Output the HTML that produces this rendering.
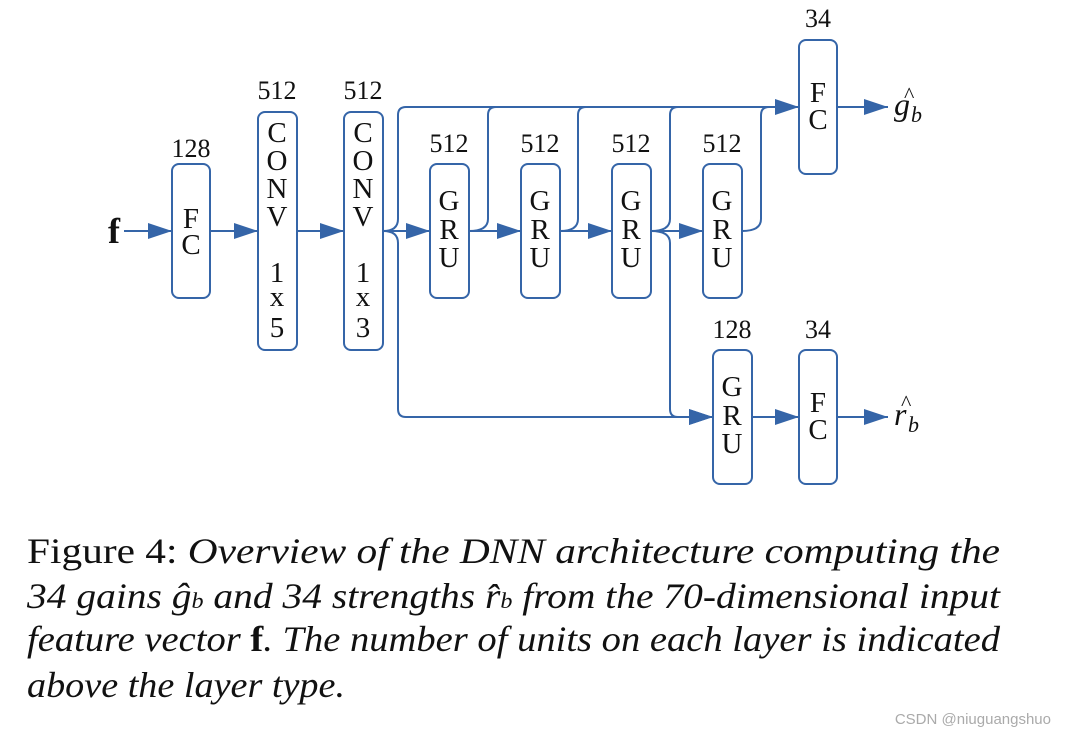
<!DOCTYPE html>
<html><head><meta charset="utf-8"><style>html,body{margin:0;padding:0;background:#fff}svg{display:block}</style></head>
<body>
<svg width="1066" height="736" viewBox="0 0 1066 736" xmlns="http://www.w3.org/2000/svg">
<defs>
<marker id="a" viewBox="0 0 24 16" refX="24" refY="8" markerWidth="24" markerHeight="16" markerUnits="userSpaceOnUse" orient="auto"><path d="M0,0 L24,8 L0,16 z" fill="#3565a8"/></marker>
</defs>
<g fill="none" stroke="#3565a8" stroke-width="2">
<rect x="172" y="164" width="38" height="134" rx="7"/>
<rect x="258" y="112" width="39" height="238" rx="7"/>
<rect x="344" y="112" width="39" height="238" rx="7"/>
<rect x="430" y="164" width="39" height="134" rx="7"/>
<rect x="521" y="164" width="39" height="134" rx="7"/>
<rect x="612" y="164" width="39" height="134" rx="7"/>
<rect x="703" y="164" width="39" height="134" rx="7"/>
<rect x="799" y="40" width="38" height="134" rx="7"/>
<rect x="713" y="350" width="39" height="134" rx="7"/>
<rect x="799" y="350" width="38" height="134" rx="7"/>
<g marker-end="url(#a)">
<line x1="124" y1="231" x2="172" y2="231"/>
<line x1="210" y1="231" x2="258" y2="231"/>
<line x1="297" y1="231" x2="344" y2="231"/>
<line x1="383" y1="231" x2="430" y2="231"/>
<line x1="469" y1="231" x2="521" y2="231"/>
<line x1="560" y1="231" x2="612" y2="231"/>
<line x1="651" y1="231" x2="703" y2="231"/>
<line x1="752" y1="417" x2="799" y2="417"/>
<line x1="837" y1="417" x2="888" y2="417"/>
<line x1="837" y1="107" x2="888" y2="107"/>
<path d="M383,231 Q398,231 398,219 L398,115 Q398,107 406,107 L799,107"/>
<path d="M383,231 Q398,231 398,243 L398,409 Q398,417 406,417 L713,417"/>
<path d="M651,231 Q670,231 670,243 L670,409 Q670,417 678,417 L713,417"/>
</g>
<path d="M469,231 Q488,231 488,219 L488,115 Q488,107 496,107"/>
<path d="M560,231 Q578,231 578,219 L578,115 Q578,107 586,107"/>
<path d="M651,231 Q670,231 670,219 L670,115 Q670,107 678,107"/>
<path d="M742,231 Q761,231 761,219 L761,115 Q761,107 769,107"/>
</g>
<g font-family="'Liberation Serif',serif" font-size="26" fill="#111" text-anchor="middle">
<text x="191" y="157">128</text>
<text x="277" y="99">512</text>
<text x="363" y="99">512</text>
<text x="449" y="152">512</text>
<text x="540" y="152">512</text>
<text x="631" y="152">512</text>
<text x="722" y="152">512</text>
<text x="818" y="27">34</text>
<text x="732" y="338">128</text>
<text x="818" y="338">34</text>
</g>
<g font-family="'Liberation Serif',serif" font-size="29" fill="#111" text-anchor="middle">
<text x="191" y="228">F</text><text x="191" y="254">C</text>
<text x="277" y="142">C</text><text x="277" y="170">O</text><text x="277" y="198">N</text><text x="277" y="226">V</text>
<text x="277" y="282">1</text><text x="277" y="306">x</text><text x="277" y="337">5</text>
<text x="363" y="142">C</text><text x="363" y="170">O</text><text x="363" y="198">N</text><text x="363" y="226">V</text>
<text x="363" y="282">1</text><text x="363" y="306">x</text><text x="363" y="337">3</text>
<text x="449" y="210">G</text><text x="449" y="239">R</text><text x="449" y="267">U</text>
<text x="540" y="210">G</text><text x="540" y="239">R</text><text x="540" y="267">U</text>
<text x="631" y="210">G</text><text x="631" y="239">R</text><text x="631" y="267">U</text>
<text x="722" y="210">G</text><text x="722" y="239">R</text><text x="722" y="267">U</text>
<text x="818" y="102">F</text><text x="818" y="129">C</text>
<text x="732" y="396">G</text><text x="732" y="425">R</text><text x="732" y="453">U</text>
<text x="818" y="412">F</text><text x="818" y="439">C</text>
<text x="114" y="243" font-size="36" font-weight="bold">f</text>
</g>
<g font-family="'Liberation Serif',serif" fill="#111">
<text x="894" y="115" font-size="32" font-style="italic">g</text><text x="904" y="102" font-size="22">^</text><text x="911" y="122" font-size="22" font-style="italic">b</text>
<text x="894" y="425" font-size="32" font-style="italic">r</text><text x="901" y="410" font-size="22">^</text><text x="908" y="432" font-size="22" font-style="italic">b</text>
</g>
<g font-family="'Liberation Serif',serif" font-size="36" fill="#111">
<text x="27" y="563" textLength="973" lengthAdjust="spacingAndGlyphs"><tspan font-style="normal">Figure 4:</tspan><tspan font-style="italic">  Overview of the DNN architecture computing the</tspan></text>
<text x="27" y="608" textLength="973" lengthAdjust="spacingAndGlyphs" font-style="italic">34 gains ĝ<tspan font-size="22">b</tspan> and 34 strengths r̂<tspan font-size="22">b</tspan> from the 70-dimensional input</text>
<text x="27" y="651" textLength="973" lengthAdjust="spacingAndGlyphs" font-style="italic">feature vector <tspan font-style="normal" font-weight="bold">f</tspan>. The number of units on each layer is indicated</text>
<text x="27" y="697" textLength="318" lengthAdjust="spacingAndGlyphs" font-style="italic">above the layer type.</text>
</g>
<text x="1051" y="724" text-anchor="end" font-family="'Liberation Sans',sans-serif" font-size="15" fill="#aaa">CSDN @niuguangshuo</text>
</svg>
</body></html>
